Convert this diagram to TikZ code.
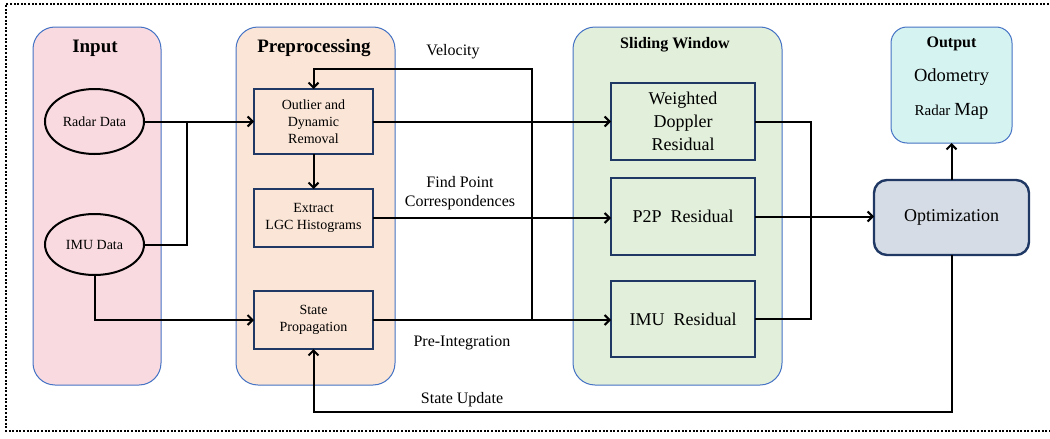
\documentclass[tikz,border=0pt]{standalone}
\usepackage{fontspec}
\setmainfont{Liberation Serif}
\usetikzlibrary{arrows.meta,shapes.geometric,calc}

\definecolor{panelblue}{HTML}{4472C4}
\definecolor{navy}{HTML}{1F3864}
\definecolor{inpink}{HTML}{F9DAE0}
\definecolor{prepeach}{HTML}{FBE5D6}
\definecolor{slidegreen}{HTML}{E2EFDA}
\definecolor{outcyan}{HTML}{D5F3F1}
\definecolor{optgrey}{HTML}{D6DCE5}

% font size with its own line spacing
\newcommand{\fs}[2]{\fontsize{#1pt}{#2pt}\selectfont}

\tikzset{
  panel/.style={draw=panelblue, line width=1pt, rounded corners=22pt,
    inner sep=0pt, outer sep=0pt},
  procbox/.style={draw=navy, line width=2.4pt, inner sep=0pt, outer sep=0pt,
    align=center},
  srcell/.style={ellipse, draw=black, line width=2pt, fill=inpink,
    inner sep=0pt, outer sep=0pt, font=\fs{14}{17}},
  conn/.style={line width=2pt, black},
  arr/.style={conn, -{Straight Barb[length=5pt,width=10pt,line width=2pt]}},
  lbl/.style={font=\fs{16}{19}, align=center, inner sep=0pt},
  ttl/.style={font=\bfseries\fs{19}{22}, inner sep=0pt},
}

\begin{document}
\begin{tikzpicture}[x=1pt, y=-1pt]
\useasboundingbox (0,0) rectangle (1050,439);

% dotted frame (right edge runs off the page)
\draw[line width=2pt, dash pattern=on 2pt off 1.6pt]
  (1056,4) -- (6,4) -- (6,431) -- (1056,431);

% stage panels
\node[panel, fill=inpink, minimum width=128pt, minimum height=358pt] (pin) at (97,206) {};
\node[panel, fill=prepeach, minimum width=159pt, minimum height=358pt] (ppre) at (315.5,206) {};
\node[panel, fill=slidegreen, minimum width=209pt, minimum height=358pt] (pslide) at (677.5,206) {};
\node[panel, fill=outcyan, minimum width=121pt, minimum height=116pt, rounded corners=16pt] (pout) at (951.5,85) {};

\node[ttl] (tin) at (95,48) {Input};
\node[ttl] (tpre) at (314,48) {Preprocessing};
\node[ttl, font=\bfseries\fs{16}{19}] (tslide) at (675,45) {Sliding Window};
\node[ttl, font=\bfseries\fs{16}{19}] (tout) at (951.5,44) {Output};
\node[lbl, font=\fs{18.5}{22}] (odo) at (951.5,77) {Odometry};
\node[lbl] (rmap) at (951.5,111) {{\fs{15}{18}Radar} {\fs{18.5}{22}Map}};

% sources
\node[srcell, minimum width=99pt, minimum height=65pt] (radar) at (94.5,121.5) {Radar Data};
\node[srcell, minimum width=99pt, minimum height=61pt] (imu) at (94.5,244.5) {IMU Data};

% preprocessing blocks
\node[procbox, fill=prepeach, font=\fs{14}{17}, minimum width=119pt, minimum height=65pt] (outl) at (313.5,121.5) {Outlier and\\Dynamic\\Removal};
\node[procbox, fill=prepeach, font=\fs{14}{17}, minimum width=119pt, minimum height=58pt] (extr) at (313.5,218) {Extract\\LGC Histograms};
\node[procbox, fill=prepeach, font=\fs{14}{17}, minimum width=119pt, minimum height=58pt] (state) at (313.5,320) {State\\Propagation};

% residual blocks
\node[procbox, fill=slidegreen, font=\fs{18}{23}, minimum width=144pt, minimum height=77pt] (wd) at (683,121.5) {Weighted\\Doppler\\Residual};
\node[procbox, fill=slidegreen, font=\fs{18}{23}, minimum width=144pt, minimum height=77pt] (p2p) at (683,216.5) {P2P\ \ Residual};
\node[procbox, fill=slidegreen, font=\fs{18}{23}, minimum width=144pt, minimum height=76pt] (imures) at (683,319) {IMU\ \ Residual};

% optimizer
\node[procbox, fill=optgrey, rounded corners=13pt, font=\fs{18}{23}, minimum width=155pt, minimum height=75pt] (opt) at (951.5,217.5) {Optimization};

% junction points
\coordinate (jin) at (187,121.5);
\coordinate (jvel) at (532,320);
\coordinate (vtop) at (532,69);
\coordinate (jres) at (811,121.5);
\coordinate (jupd) at (951.5,412);

% connectors
\draw[arr] (radar.east) -- (outl.west);
\draw[conn] (imu.east) -| (jin);
\draw[arr] (imu.south) |- (state.west);
\draw[arr] (outl.south) -- (extr.north);
\draw[arr] (outl.east) -- (wd.west);
\draw[arr] (extr.east) -- (extr.east -| p2p.west);
\draw[arr] (state.east) -- (state.east -| imures.west);
\draw[arr] (jvel) -- (vtop) -| (outl.north);
\draw[conn] (wd.east) -- (jres) |- (imures.east);
\draw[arr] (p2p.east) -- (p2p.east -| opt.west);
\draw[arr] (opt.north) -- (pout.south);
\draw[arr] (opt.south) -- (jupd) -| (state.south);

% connector labels
\node[lbl] (lvel) at (453,52) {Velocity};
\node[lbl] (lfind) at (460,193.5) {Find Point\\Correspondences};
\node[lbl] (lpre) at (462,343) {Pre-Integration};
\node[lbl] (lupd) at (462,400) {State Update};
\end{tikzpicture}
\end{document}
